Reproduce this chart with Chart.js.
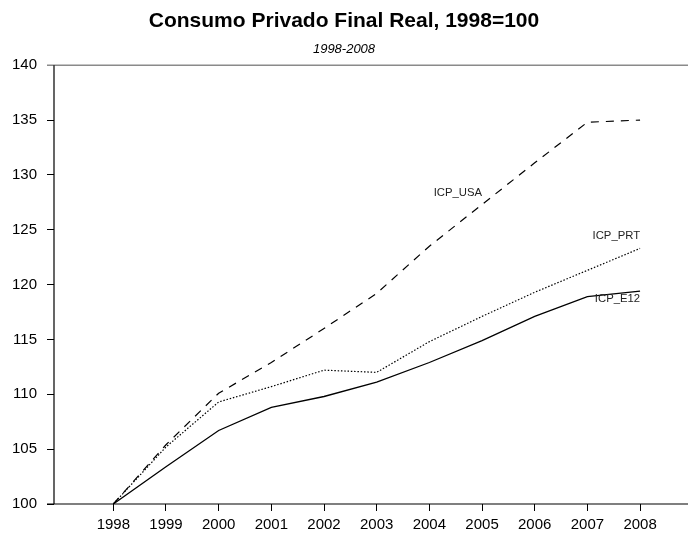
<!DOCTYPE html>
<html>
<head>
<meta charset="utf-8">
<script src="https://cdn.jsdelivr.net/npm/chart.js@4/dist/chart.umd.min.js"></script>
<style>
  html, body { margin: 0; padding: 0; background: #fff; }
  #wrap { width: 688px; height: 536px; }
</style>
</head>
<body>
<div id="wrap"><canvas id="c" width="688" height="536"></canvas></div>
<script>
// ---- data ----
const years = [1998, 1999, 2000, 2001, 2002, 2003, 2004, 2005, 2006, 2007, 2008];
const icpUSA = [100, 105.4, 110.1, 112.9, 116.0, 119.2, 123.5, 127.3, 131.1, 134.8, 135.0];
const icpPRT = [100, 105.2, 109.3, 110.7, 112.2, 112.0, 114.8, 117.1, 119.3, 121.3, 123.3];
const icpE12 = [100, 103.4, 106.7, 108.8, 109.8, 111.1, 112.9, 114.9, 117.1, 118.9, 119.4];
const yTicks = [100, 105, 110, 115, 120, 125, 130, 135, 140];
const titleText = 'Consumo Privado Final Real, 1998=100';
const subtitleText = '1998-2008';

// series labels (text anchored in data coordinates, right-aligned)
const seriesLabels = [
  { text: 'ICP_USA', x: 2005, y: 128.4 },
  { text: 'ICP_PRT', x: 2008, y: 124.4 },
  { text: 'ICP_E12', x: 2008, y: 118.7 }
];

const FONT = "'Liberation Sans', Arial, Helvetica, sans-serif";

function pts(vals) { return vals.map((v, i) => ({ x: years[i], y: v })); }

const framePlugin = {
  id: 'frame',
  afterDraw(chart) {
    const { ctx, chartArea: a, scales } = chart;
    ctx.save();
    // top gray line
    ctx.strokeStyle = '#8a8a8a';
    ctx.lineWidth = 1.5;
    ctx.beginPath();
    ctx.moveTo(a.left - 7, a.top);
    ctx.lineTo(a.right, a.top);
    ctx.stroke();
    // axes
    ctx.strokeStyle = '#000';
    ctx.lineWidth = 1.2;
    ctx.beginPath();
    ctx.moveTo(a.left, a.top);
    ctx.lineTo(a.left, a.bottom);
    ctx.moveTo(a.left - 7, a.bottom);
    ctx.lineTo(a.right, a.bottom);
    ctx.stroke();
    // series labels
    ctx.fillStyle = '#222';
    ctx.font = '11.3px ' + FONT;
    ctx.textAlign = 'right';
    ctx.textBaseline = 'middle';
    seriesLabels.forEach(l => {
      ctx.fillText(l.text, scales.x.getPixelForValue(l.x), scales.y.getPixelForValue(l.y));
    });
    ctx.restore();
  }
};

new Chart(document.getElementById('c'), {
  type: 'line',
  data: {
    datasets: [
      { label: 'ICP_USA', data: pts(icpUSA), borderColor: '#000', borderWidth: 1.2, borderDash: [8, 7], pointRadius: 0, tension: 0, fill: false },
      { label: 'ICP_PRT', data: pts(icpPRT), borderColor: '#000', borderWidth: 1.2, borderDash: [1.5, 1.8], pointRadius: 0, tension: 0, fill: false },
      { label: 'ICP_E12', data: pts(icpE12), borderColor: '#000', borderWidth: 1.3, pointRadius: 0, tension: 0, fill: false }
    ]
  },
  options: {
    responsive: false,
    animation: false,
    layout: { padding: { left: 0, right: 0, top: 0, bottom: 0 } },
    plugins: {
      legend: { display: false },
      tooltip: { enabled: false },
      title: {
        display: true, text: titleText, color: '#000',
        font: { family: FONT, size: 21, weight: 'bold' },
        padding: { top: 9, bottom: 5 }
      },
      subtitle: {
        display: true, text: subtitleText, color: '#000',
        font: { family: FONT, size: 13, style: 'italic' },
        padding: { top: 2, bottom: 8.4 }
      }
    },
    scales: {
      x: {
        type: 'linear',
        min: 1996.874, max: 2008.91,
        afterBuildTicks: s => { s.ticks = years.map(v => ({ value: v })); },
        afterFit: s => { s.height = 32; },
        ticks: {
          callback: v => String(v),
          color: '#000', font: { family: FONT, size: 15 },
          padding: 5, maxRotation: 0, autoSkip: false
        },
        grid: { drawOnChartArea: false, drawTicks: true, tickLength: 7, color: '#000', lineWidth: 1 },
        border: { display: false }
      },
      y: {
        min: 100, max: 140,
        afterBuildTicks: s => { s.ticks = yTicks.map(v => ({ value: v })); },
        afterFit: s => { s.width = 54; },
        ticks: {
          callback: v => String(v),
          color: '#000', font: { family: FONT, size: 15 },
          padding: 10
        },
        grid: { drawOnChartArea: false, drawTicks: true, tickLength: 7, color: '#000', lineWidth: 1 },
        border: { display: false }
      }
    }
  },
  plugins: [framePlugin]
});
</script>
</body>
</html>
